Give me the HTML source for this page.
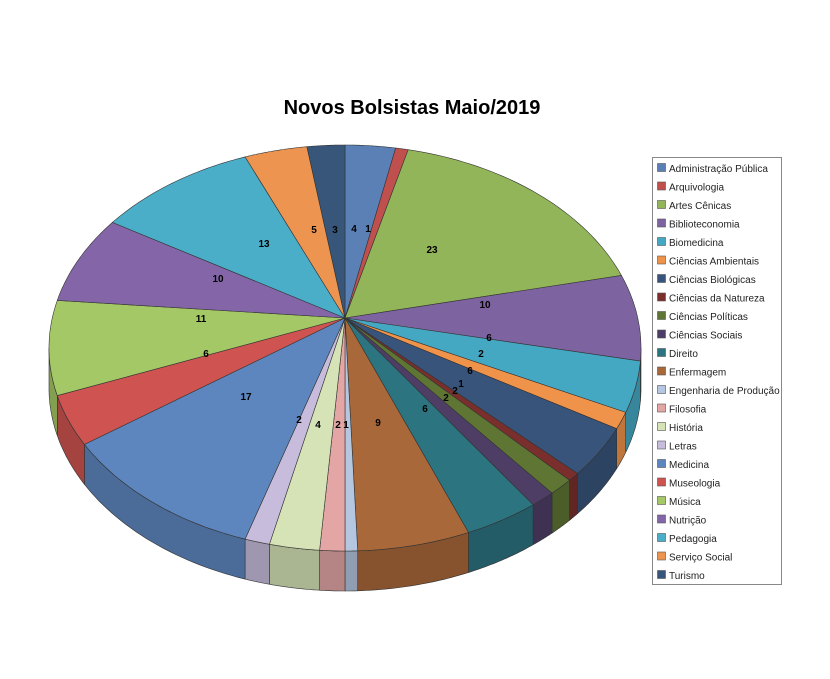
<!DOCTYPE html>
<html><head><meta charset="utf-8"><style>
body{margin:0;background:#fff;width:830px;height:674px;overflow:hidden;font-family:"Liberation Sans",sans-serif}
svg text{font-family:"Liberation Sans",sans-serif}
</style></head><body>
<svg id="s" width="830" height="674" xmlns="http://www.w3.org/2000/svg">
<text x="412" y="114" text-anchor="middle" font-size="20" font-weight="bold" fill="#000">Novos Bolsistas Maio/2019</text>
<g id="pie"></g>
<rect x="652.5" y="157.5" width="129" height="427" fill="#fff" stroke="#888"/>
<g id="leg" font-size="10" fill="#222"></g>
<g id="lab" font-size="10" font-weight="bold" fill="#000" text-anchor="middle"></g>
</svg>
<script>
var d=[["Administração Pública",4,"#5B80B6"],["Arquivologia",1,"#C0504D"],["Artes Cênicas",23,"#93B55A"],["Biblioteconomia",10,"#7D63A0"],["Biomedicina",6,"#45A8C2"],["Ciências Ambientais",2,"#F0934A"],["Ciências Biológicas",6,"#38547A"],["Ciências da Natureza",1,"#7A2F2D"],["Ciências Políticas",2,"#5E7533"],["Ciências Sociais",2,"#4E3E66"],["Direito",6,"#2C7480"],["Enfermagem",9,"#A8683A"],["Engenharia de Produção",1,"#B5C6E0"],["Filosofia",2,"#E3A6A5"],["História",4,"#D5E3B6"],["Letras",2,"#C7BCDB"],["Medicina",17,"#5E86BE"],["Museologia",6,"#CF5451"],["Música",11,"#A4C865"],["Nutrição",10,"#8466A8"],["Pedagogia",13,"#4BAEC8"],["Serviço Social",5,"#ED9550"],["Turismo",3,"#385679"]];
var cx=345,cy=348,ax=345,ay=318,rx=296,ry=203,dep=40,tot=146;
function P(t,o){return [cx+rx*Math.sin(t),cy-ry*Math.cos(t)+(o||0)];}
function dk(h,f){var n=parseInt(h.slice(1),16);var r=(n>>16)*f|0,g=((n>>8)&255)*f|0,b=(n&255)*f|0;return "rgb("+r+","+g+","+b+")";}
var pie=document.getElementById("pie"),sides="",tops="",c=0,segs=[];
d.forEach(function(e){var t1=c/tot*2*Math.PI;c+=e[1];var t2=c/tot*2*Math.PI;segs.push([t1,t2,e[2]]);});
segs.forEach(function(s){
 var a=Math.max(s[0],Math.PI/2),b=Math.min(s[1],3*Math.PI/2);
 if(b>a){var pts=[],N=30,i;for(i=0;i<=N;i++){var p=P(a+(b-a)*i/N);pts.push(p[0].toFixed(1)+","+p[1].toFixed(1));}
 for(i=N;i>=0;i--){var p=P(a+(b-a)*i/N,dep);pts.push(p[0].toFixed(1)+","+p[1].toFixed(1));}
 sides+='<polygon points="'+pts.join(" ")+'" fill="'+dk(s[2],0.8)+'" stroke="#333" stroke-width="0.6"/>';}
 var pts=[ax+","+ay],N=40;for(var i=0;i<=N;i++){var p=P(s[0]+(s[1]-s[0])*i/N);pts.push(p[0].toFixed(1)+","+p[1].toFixed(1));}
 tops+='<polygon points="'+pts.join(" ")+'" fill="'+s[2]+'" stroke="#333" stroke-width="0.6"/>';
});
pie.innerHTML=sides+tops;
var L="";d.forEach(function(e,i){var y=168+i*18.5;L+='<rect x="657.5" y="'+(y-4.5)+'" width="8" height="8" fill="'+e[2]+'" stroke="#555" stroke-width="0.6"/><text x="669" y="'+(y+4)+'">'+e[0]+'</text>';});
document.getElementById("leg").innerHTML=L;
var lp=[[354,228],[368,228],[432,249],[485,304],[489,337],[481,353],[470,370],[461,383],[455,390],[446,397],[425,408],[378,422],[346,424],[338,424],[318,424],[299,419],[246,396],[206,353],[201,318],[218,278],[264,243],[314,229],[335,229]];
var T="";lp.forEach(function(p,i){T+='<text x="'+p[0]+'" y="'+(p[1]+4)+'">'+d[i][1]+'</text>';});
document.getElementById("lab").innerHTML=T;
</script>
</body></html>
